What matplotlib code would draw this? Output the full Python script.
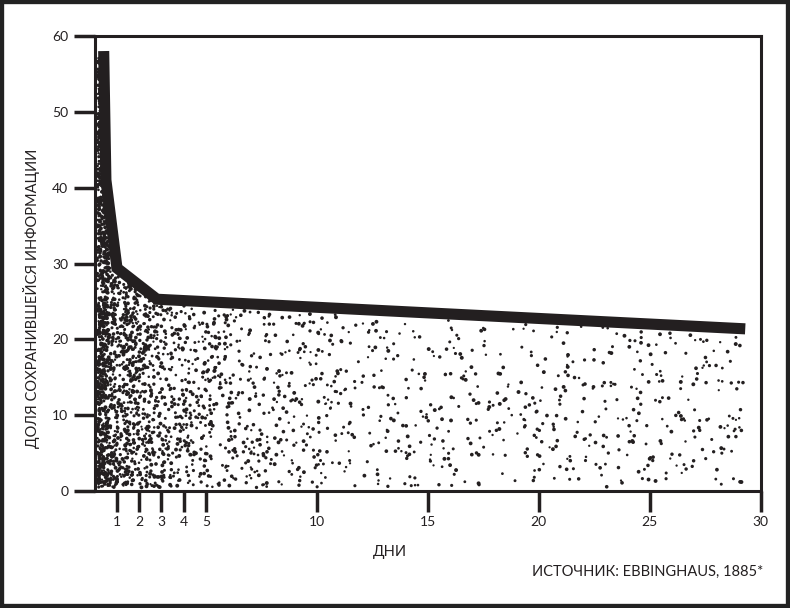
import numpy as np
import matplotlib
matplotlib.use('Agg')
import matplotlib.pyplot as plt
from matplotlib.patches import Rectangle

plt.rcParams['font.family'] = ['Lato', 'DejaVu Sans']

# forgetting curve
days = [0.4, 0.5, 1.0, 2.8, 29.3]
retained = [58, 41, 29.4, 25.3, 21.4]
xticks = [1, 2, 3, 4, 5, 10, 15, 20, 25, 30]
yticks = [0, 10, 20, 30, 40, 50, 60]

ink = '#231f20'

fig = plt.figure(figsize=(7.9, 6.08), dpi=100)
ax = fig.add_axes([0.120, 0.192, 0.843, 0.749])
ax.set_xlim(0, 30)
ax.set_ylim(0, 60)

# stippled area under the curve (texture only)
fill_x = [0.05] + days
fill_y = [retained[0]] + retained
poly = ax.fill_between(fill_x, 0, fill_y, facecolor='white', edgecolor='none', zorder=1)

rng = np.random.default_rng(7)
sx = np.concatenate([rng.exponential(2.5, 3200), rng.uniform(0, 30, 2600),
                     rng.uniform(0.1, 0.6, 500)])
sy = rng.uniform(0, 60, len(sx))
top = np.interp(sx, fill_x, fill_y)
keep = (sx > 0.12) & (sx < 29.2) & (sy < top - 0.7) & (sy > 0.5)
sx, sy = sx[keep], sy[keep]
sizes = rng.uniform(2.5, 8.0, len(sx))
dots = ax.scatter(sx, sy, s=sizes, c=ink, marker='o', linewidths=0, zorder=2)
path = poly.get_paths()[0]
dots.set_clip_path(path, ax.transData)

ax.plot(days, retained, color=ink, linewidth=8, solid_capstyle='butt',
        solid_joinstyle='miter', zorder=3)

for s in ax.spines.values():
    s.set_linewidth(2.2)
    s.set_color(ink)

ax.set_xticks(xticks)
ax.set_yticks(yticks)
ax.tick_params(axis='both', direction='out', length=15, width=2.5, color=ink,
               labelsize=10, labelcolor=ink)
ax.tick_params(axis='x', pad=3)
ax.tick_params(axis='y', pad=4)

fig.text(0.040, 0.51, 'ДОЛЯ СОХРАНИВШЕЙСЯ ИНФОРМАЦИИ', rotation=90,
         ha='center', va='center', fontsize=10.5, color=ink)
fig.text(0.494, 0.092, 'ДНИ', ha='center', va='center', fontsize=10.5, color=ink)
fig.text(0.966, 0.059, 'ИСТОЧНИК: EBBINGHAUS, 1885*', ha='right', va='center',
         fontsize=10.5, color=ink)

fig.patches.append(Rectangle((0, 0), 1, 1, transform=fig.transFigure,
                             fill=False, edgecolor='#222222', linewidth=6))

fig.savefig('out.png', dpi=100)
